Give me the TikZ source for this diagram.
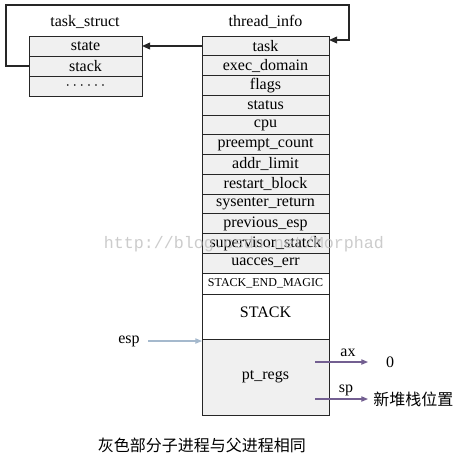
\documentclass[tikz,border=0pt]{standalone}
\usepackage{fontspec}
\setmainfont{Liberation Serif}
\newfontfamily\cjk{Noto Sans CJK SC}
\newfontfamily\wmfont{Liberation Mono}
\usepackage{tikz}
\usetikzlibrary{positioning}
\usetikzlibrary{arrows.meta}
\usepackage{xcolor}

\definecolor{fieldgray}{RGB}{240,240,240}
\definecolor{espblue}{RGB}{165,185,205}
\definecolor{regpurple}{RGB}{115,95,145}

\begin{document}
\begin{tikzpicture}[
    x=0.75pt, y=-0.75pt,
    node distance=0pt,
    field/.style={rectangle, draw=black!85, line width=0.6pt, fill=fieldgray, minimum width=95.25pt, minimum height=14.8pt, inner sep=0pt, outer sep=0pt, font=\fontsize{12}{14}\selectfont},
    tfield/.style={field, minimum width=84.75pt, minimum height=15pt},
    blank/.style={field, fill=white},
    title/.style={font=\fontsize{12}{14}\selectfont},
    arrow/.style={-{Triangle[length=6pt,width=5pt]}, line width=1.1pt, draw=black!85},
    esparrow/.style={-{Triangle[length=5pt,width=4pt]}, line width=0.8pt, draw=espblue},
    regarrow/.style={-{Triangle[length=5pt,width=4pt]}, line width=0.8pt, draw=regpurple}
]
\useasboundingbox (0,0) rectangle (471,476);

% task_struct
\node[title] (tslabel) at (85,22) {task\_struct};
\node[tfield] (state) at (85.5,46) {state};
\node[tfield, below=of state] (stack) {stack};
\node[tfield, below=of stack] (dots) {$\cdots\cdots$};

% thread_info
\node[title] (tilabel) at (265.5,22) {thread\_info};
\node[field] (task) at (265.5,46) {task};
\node[field, below=of task] (execdomain) {exec\_domain};
\node[field, below=of execdomain] (flags) {flags};
\node[field, below=of flags] (status) {status};
\node[field, below=of status] (cpu) {cpu};
\node[field, below=of cpu] (preempt) {preempt\_count};
\node[field, below=of preempt] (addrlimit) {addr\_limit};
\node[field, below=of addrlimit] (restart) {restart\_block};
\node[field, below=of restart] (sysenter) {sysenter\_return};
\node[field, below=of sysenter] (prevesp) {previous\_esp};
\node[field, below=of prevesp] (supervisor) {supervisor\_statck};
\node[field, below=of supervisor] (uacces) {uacces\_err};
\node[blank, below=of uacces, minimum height=15.75pt, font=\fontsize{9}{11}\selectfont] (endmagic) {STACK\_END\_MAGIC};
\node[blank, below=of endmagic, minimum height=33.75pt, text depth=7pt] (kstack) {STACK};
\node[field, below=of kstack, minimum height=57pt] (ptregs) {pt\_regs};

% pointers between the two structs
\draw[arrow] (task.west) -- (state.east);
\draw[arrow] (stack.west) -- ++(-23,0) |- (349,5) |- ([yshift=4.5pt]task.east);

% esp
\node[title] (esp) at (129,341) {esp};
\draw[esparrow] (esp.east) ++(4,0) -- (esp -| ptregs.west);

% ax and sp
\coordinate (axstart) at (315,362);
\coordinate (axend) at (368,362);
\coordinate (spstart) at (315,399);
\coordinate (spend) at (368,399);
\draw[regarrow] (axstart) -- (axend);
\draw[regarrow] (spstart) -- (spend);
\node[title] (axlabel) at (348,353) {ax};
\node[title] (splabel) at (346,390) {sp};
\node[title] (zero) at (390,362) {0};
\node[font=\cjk\fontsize{12}{14}\selectfont, anchor=west, inner sep=0pt] (newsp) at (373,399) {新堆栈位置};

% caption
\node[font=\cjk\fontsize{12}{14}\selectfont] (caption) at (202,445) {灰色部分子进程与父进程相同};

% watermark
\node[font=\wmfont\fontsize{12.5}{14}\selectfont, text=black!25, opacity=0.8] (mark) at (244,244) {http://blog.csdn.net/Morphad};

\end{tikzpicture}
\end{document}
